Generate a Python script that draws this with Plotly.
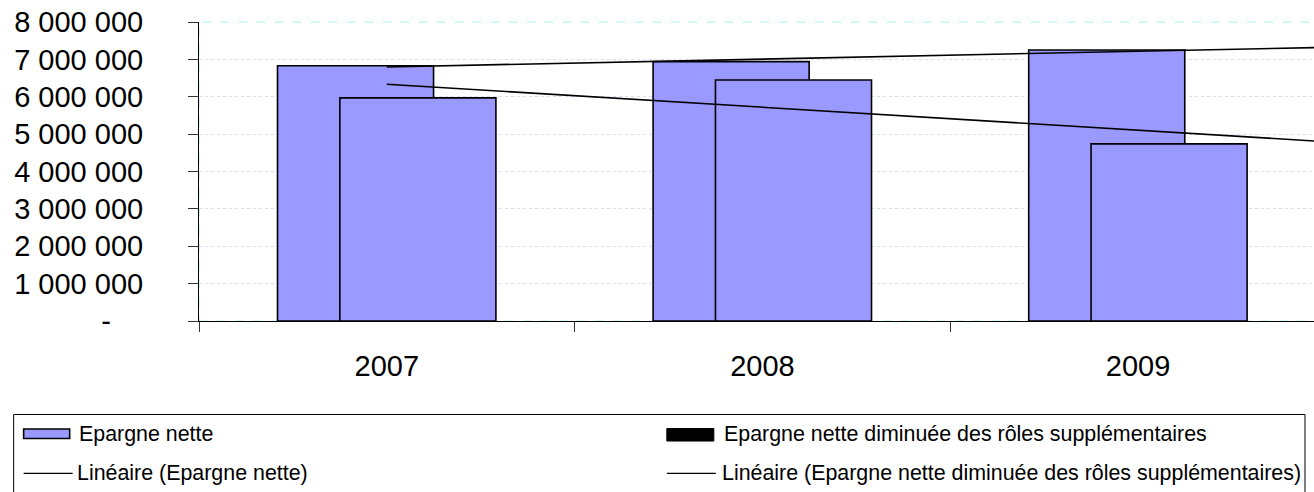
import numpy as np
import plotly.graph_objects as go

# ---- data ----
years = ["2007", "2008", "2009"]
epargne_nette = [6830000, 6940000, 7250000]
epargne_diminuee = [5970000, 6450000, 4740000]
y_tick_values = [0, 1000000, 2000000, 3000000, 4000000, 5000000, 6000000, 7000000, 8000000]
y_tick_labels = ["-\u00a0\u00a0\u00a0\u00a0", "1 000 000", "2 000 000", "3 000 000", "4 000 000",
                 "5 000 000", "6 000 000", "7 000 000", "8 000 000"]
series_names = [
    "Epargne nette",
    "Epargne nette diminuée des rôles supplémentaires",
    "Linéaire (Epargne nette)",
    "Linéaire (Epargne nette diminuée des rôles supplémentaires)",
]

# ---- geometry (pixels) ----
W, H = 1314, 492
LEFT, TOP = 199.3, 22.3
AXIS_Y = 320.7
plot_w = W - LEFT
plot_h = AXIS_Y - TOP
CAT_PX = 375.5
x_max = -0.5 + plot_w / CAT_PX

FONT = "Liberation Sans, Arial, sans-serif"
BAR_FILL = "#9999FF"

xpos = list(range(len(years)))


def px_x(px):
    return (px - LEFT) / plot_w


def px_y(py):
    return (AXIS_Y - py) / plot_h


fig = go.Figure()

fig.add_trace(go.Bar(
    x=xpos, y=epargne_nette, width=0.4155, offset=-0.291,
    marker=dict(color=BAR_FILL, line=dict(color="black", width=1.6)),
    name=series_names[0], showlegend=False,
))
fig.add_trace(go.Bar(
    x=xpos, y=epargne_diminuee, width=0.4155, offset=-0.125,
    marker=dict(color=BAR_FILL, line=dict(color="black", width=1.6)),
    name=series_names[1], showlegend=False,
))

# linear trend lines with half-period forward forecast
x_trend = [0, len(years) - 0.5]
for vals, name in ((epargne_nette, series_names[2]), (epargne_diminuee, series_names[3])):
    coef = np.polyfit(xpos, vals, 1)
    fig.add_trace(go.Scatter(
        x=x_trend, y=np.polyval(coef, x_trend), mode="lines",
        line=dict(color="black", width=1.6), name=name, showlegend=False,
        hoverinfo="skip",
    ))

shapes = [
    # plot-area border (light cyan dashed)
    dict(type="rect", xref="paper", yref="paper", x0=0, x1=1.05, y0=0, y1=1,
         line=dict(color="#A8F4F4", width=1.2, dash="dash"), layer="below"),
    # legend frame
    dict(type="rect", xref="paper", yref="paper",
         x0=px_x(14), x1=px_x(1305), y0=px_y(414), y1=px_y(530),
         line=dict(color="black", width=1), fillcolor="rgba(0,0,0,0)"),
    # legend swatches
    dict(type="rect", xref="paper", yref="paper",
         x0=px_x(24), x1=px_x(70), y0=px_y(428.5), y1=px_y(438),
         line=dict(color="black", width=1.6), fillcolor=BAR_FILL),
    dict(type="rect", xref="paper", yref="paper",
         x0=px_x(667), x1=px_x(714), y0=px_y(428), y1=px_y(440.5),
         line=dict(color="black", width=1), fillcolor="black"),
    dict(type="line", xref="paper", yref="paper",
         x0=px_x(24), x1=px_x(73), y0=px_y(472.7), y1=px_y(472.7),
         line=dict(color="black", width=1.3)),
    dict(type="line", xref="paper", yref="paper",
         x0=px_x(667), x1=px_x(716), y0=px_y(472.7), y1=px_y(472.7),
         line=dict(color="black", width=1.3)),
]

legend_text_pos = [(77, 433), (722, 433), (75, 472.5), (720, 472.5)]
annotations = [
    dict(text=name, xref="paper", yref="paper", x=px_x(tx), y=px_y(ty),
         xanchor="left", yanchor="middle", showarrow=False,
         font=dict(family=FONT, size=21.4, color="black"))
    for name, (tx, ty) in zip(series_names, legend_text_pos)
]

fig.update_layout(
    width=W, height=H,
    margin=dict(l=LEFT, r=0, t=TOP, b=H - AXIS_Y, pad=0),
    paper_bgcolor="white", plot_bgcolor="white",
    barmode="overlay",
    showlegend=False,
    shapes=shapes,
    annotations=annotations,
    font=dict(family=FONT, color="black"),
    xaxis=dict(
        range=[-0.5, x_max], tickmode="array", tickvals=xpos, ticktext=years,
        ticks="", showgrid=False, zeroline=False,
        showline=True, linecolor="black", linewidth=1,
        tickfont=dict(family=FONT, size=29, color="black"),
        ticklabelstandoff=19,
        minor=dict(tickmode="array", tickvals=[-0.5, 0.5, 1.5, 2.5], ticks="outside",
                   ticklen=10, tickcolor="#333333", tickwidth=1, showgrid=False),
        fixedrange=True,
    ),
    yaxis=dict(
        range=[0, 8000000], tickmode="array", tickvals=y_tick_values, ticktext=y_tick_labels,
        ticks="outside", ticklen=10, tickcolor="#333333", tickwidth=1,
        showgrid=True, gridcolor="#DCDCFA", griddash="dot", gridwidth=1,
        zeroline=False, showline=True, linecolor="black", linewidth=1,
        tickfont=dict(family=FONT, size=29, color="black"),
        ticklabelstandoff=39,
        fixedrange=True,
    ),
)

fig.write_html("out.html")
